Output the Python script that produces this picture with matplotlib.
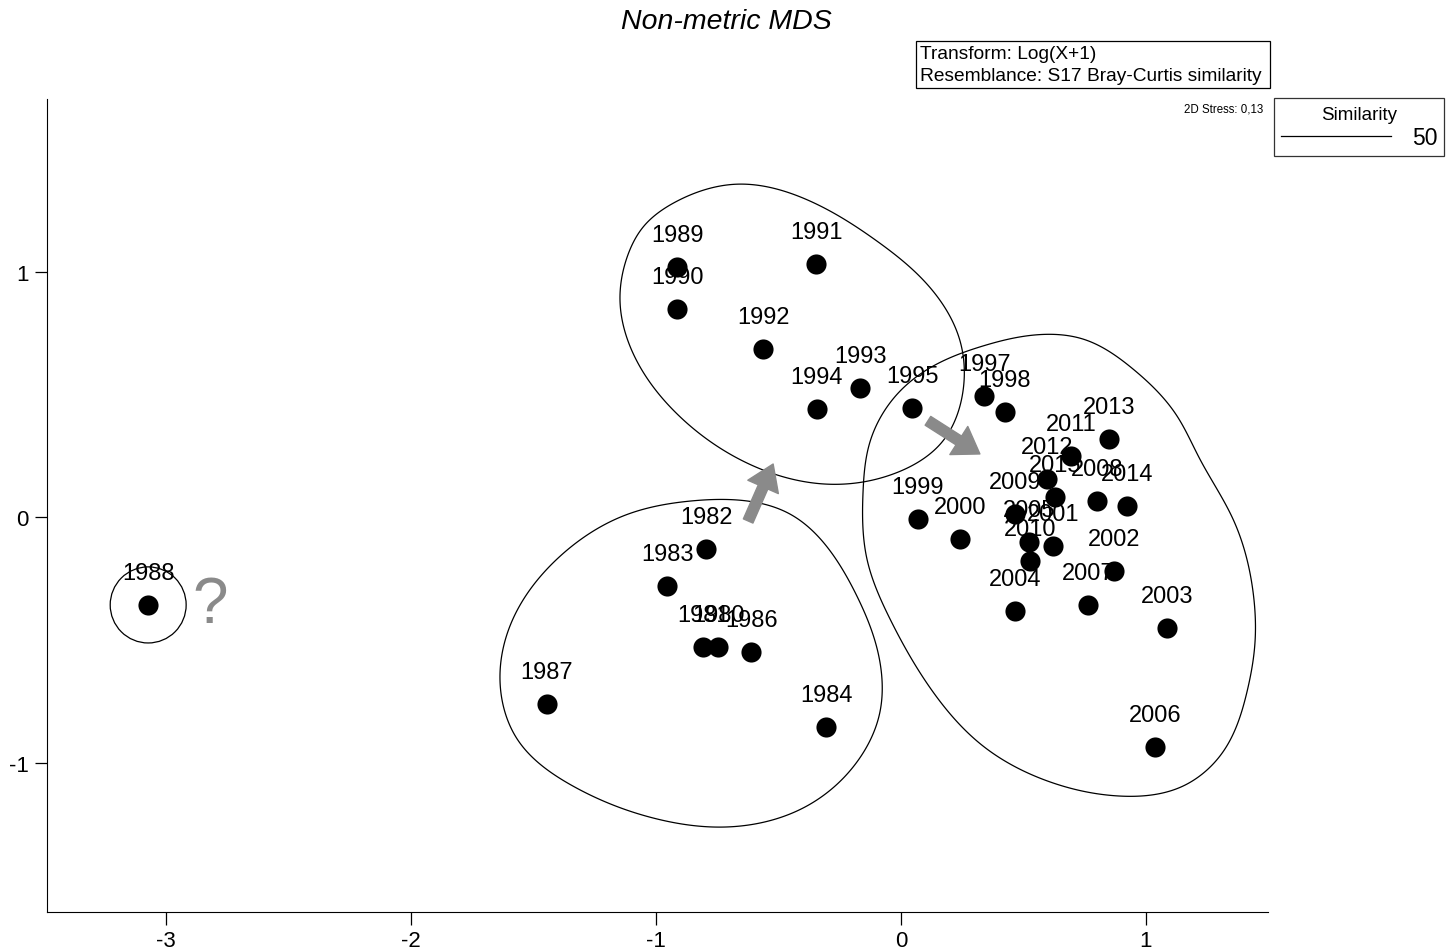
import numpy as np
import matplotlib
matplotlib.use("Agg")
import matplotlib.pyplot as plt
import matplotlib.patches as patches
from matplotlib.lines import Line2D

plt.rcParams['font.family'] = ['Liberation Sans', 'DejaVu Sans']
plt.rcParams['axes.unicode_minus'] = False

# MDS coordinates per year
years = ['1980', '1981', '1982', '1983', '1984', '1986', '1987', '1988',
         '1989', '1990', '1991', '1992', '1993', '1994', '1995',
         '1997', '1998', '1999', '2000', '2001', '2002', '2003', '2004',
         '2005', '2006', '2007', '2008', '2009', '2010', '2011', '2012',
         '2013', '2014', '2015']
mds_x = [-0.747, -0.808, -0.796, -0.955, -0.306, -0.612, -1.445, -3.073,
         -0.914, -0.914, -0.347, -0.563, -0.167, -0.343, 0.045,
         0.339, 0.424, 0.069, 0.241, 0.620, 0.869, 1.086, 0.465,
         0.522, 1.037, 0.763, 0.800, 0.465, 0.527, 0.694, 0.596,
         0.849, 0.922, 0.629]
mds_y = [-0.530, -0.530, -0.130, -0.281, -0.855, -0.550, -0.762, -0.358,
         1.018, 0.847, 1.031, 0.684, 0.525, 0.440, 0.444,
         0.493, 0.428, -0.008, -0.090, -0.118, -0.220, -0.452, -0.383,
         -0.102, -0.937, -0.358, 0.065, 0.012, -0.179, 0.248, 0.155,
         0.318, 0.045, 0.081]

# 50% similarity contours (outline points, data units)
group_a_x = [-0.861, -0.453, -0.180, -0.086, -0.086, -0.180, -0.384, -0.727,
             -0.996, -1.339, -1.567, -1.637, -1.584, -1.404, -1.135]
group_a_y = [0.065, 0.012, -0.322, -0.591, -0.794, -0.998, -1.177, -1.263,
             -1.230, -1.096, -0.904, -0.660, -0.415, -0.171, 0.004]
group_b_x = [-0.669, -0.371, -0.098, 0.106, 0.241, 0.253, 0.171, -0.033,
             -0.302, -0.645, -0.914, -1.078, -1.147, -1.118, -1.053, -0.914]
group_b_y = [1.356, 1.287, 1.124, 0.949, 0.717, 0.513, 0.310, 0.175,
             0.134, 0.228, 0.420, 0.635, 0.880, 1.059, 1.181, 1.287]
group_c_x = [0.539, 0.743, 0.947, 1.127, 1.220, 1.355, 1.437, 1.445, 1.412,
             1.314, 1.151, 0.882, 0.608, 0.335, 0.131, -0.045, -0.139,
             -0.155, -0.127, -0.004, 0.131, 0.335]
group_c_y = [0.741, 0.725, 0.603, 0.411, 0.236, -0.008, -0.305, -0.509, -0.713,
             -0.957, -1.096, -1.136, -1.079, -0.933, -0.713, -0.415, -0.171,
             0.102, 0.305, 0.513, 0.615, 0.697]
outlier_center = (-3.073, -0.358)
outlier_radius = 0.155

# arrows (tail, head)
arrows = [((-0.624, -0.016), (-0.522, 0.216)),
          ((0.110, 0.392), (0.322, 0.257))]

gray = '#8a8a8a'


def periodic_spline(xs, ys, n=800):
    # closed C2 cubic spline, chord-length parameter
    p = np.column_stack([xs, ys])
    m = len(p)
    h = np.linalg.norm(np.roll(p, -1, axis=0) - p, axis=1)
    A = np.zeros((m, m))
    rhs = np.zeros((m, 2))
    for i in range(m):
        hp, hn = h[i - 1], h[i]
        A[i, i - 1] = hp
        A[i, i] = 2 * (hp + hn)
        A[i, (i + 1) % m] = hn
        rhs[i] = 6 * ((p[(i + 1) % m] - p[i]) / hn - (p[i] - p[i - 1]) / hp)
    M = np.linalg.solve(A, rhs)
    knots = np.concatenate([[0], np.cumsum(h)])
    s = np.linspace(0, knots[-1], n, endpoint=False)
    out = np.zeros((n, 2))
    for k, sv in enumerate(s):
        i = min(np.searchsorted(knots, sv, side='right') - 1, m - 1)
        j = (i + 1) % m
        hi = h[i]
        a = knots[i + 1] - sv
        b = sv - knots[i]
        out[k] = (M[i] * a ** 3 / (6 * hi) + M[j] * b ** 3 / (6 * hi)
                  + (p[i] / hi - M[i] * hi / 6) * a + (p[j] / hi - M[j] * hi / 6) * b)
    return out


fig = plt.figure(figsize=(14.53, 9.53), dpi=100)
ax = fig.add_axes([47 / 1453, 1 - 913 / 953, (1268 - 47) / 1453, (913 - 100) / 953])

for gx, gy in [(group_a_x, group_a_y), (group_b_x, group_b_y), (group_c_x, group_c_y)]:
    outline = periodic_spline(gx, gy)
    ax.add_patch(patches.Polygon(outline, closed=True, fill=False,
                                 edgecolor='black', lw=0.9))

ax.add_patch(patches.Ellipse(outlier_center, 2 * outlier_radius, 2 * outlier_radius,
                             fill=False, edgecolor='black', lw=0.9))

ax.scatter(mds_x, mds_y, s=210, color='black', zorder=3, linewidths=0)
for yr, x, y in zip(years, mds_x, mds_y):
    ax.annotate(yr, (x, y), xytext=(0, 23), textcoords='offset points',
                ha='center', va='center', fontsize=17, zorder=4)

for tail, head in arrows:
    ax.annotate('', xy=head, xytext=tail,
                arrowprops=dict(arrowstyle='simple,head_width=2.4,head_length=1.8,tail_width=0.75',
                                color=gray, mutation_scale=10, shrinkA=0, shrinkB=0))

ax.text(-2.82, -0.36, '?', color=gray, fontsize=46, ha='center', va='center')

ax.set_xlim(-3.486, 1.498)
ax.set_ylim(-1.609, 1.703)
ax.set_xticks([-3, -2, -1, 0, 1])
ax.set_yticks([-1, 0, 1])
ax.spines['top'].set_visible(False)
ax.spines['right'].set_visible(False)
ax.tick_params(direction='out', length=9, width=0.9, labelsize=16, pad=4)

fig.text(726 / 1453, 1 - 22 / 953, 'Non-metric MDS', fontsize=20.5, style='italic',
         ha='center', va='center')
fig.patches.append(patches.Rectangle((916 / 1453, 1 - 89 / 953), (1270 - 916) / 1453, 47 / 953,
                                     transform=fig.transFigure, fill=False,
                                     edgecolor='black', lw=0.9))
fig.text(920 / 1453, 1 - 65.5 / 953,
         'Transform: Log(X+1)\nResemblance: S17 Bray-Curtis similarity',
         fontsize=13.8, ha='left', va='center', linespacing=1.35)
fig.text(1263 / 1453, 1 - 110 / 953, '2D Stress: 0,13', fontsize=8.3,
         ha='right', va='center')

handle = Line2D([], [], color='black', lw=0.9)
leg = fig.legend([handle], ['50'], title='Similarity', loc='upper right',
                 bbox_to_anchor=(1444 / 1453, 1 - 99 / 953), fontsize=16.5,
                 title_fontsize=13.5, handlelength=4.8, frameon=True,
                 fancybox=False, edgecolor='black', borderaxespad=0,
                 borderpad=0.3, handletextpad=0.9, labelspacing=0.2)
leg.get_frame().set_linewidth(0.9)
leg.get_title().set_position((0, -1))

fig.savefig('out.png', dpi=100)
